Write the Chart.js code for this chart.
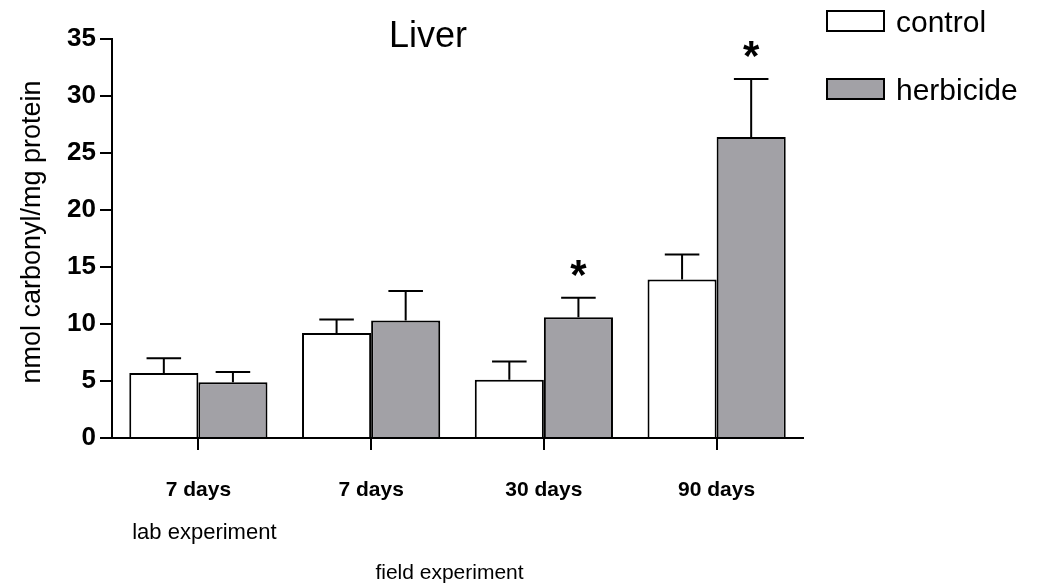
<!DOCTYPE html>
<html><head><meta charset="utf-8">
<script src="https://cdn.jsdelivr.net/npm/chart.js@4/dist/chart.umd.min.js"></script>
<style>html,body{margin:0;padding:0;background:#fff;} #wrap{width:1039px;height:587px;position:relative;}</style>
</head><body><div id="wrap"><canvas id="c"></canvas></div>
<script>
// ---- data ----
const categories = ['7 days', '7 days', '30 days', '90 days'];
const groupLabels = ['lab experiment', 'field experiment'];
const chartTitle = 'Liver';
const yAxisTitle = 'nmol carbonyl/mg protein';
const seriesNames = ['control', 'herbicide'];
const controlMean = [5.7, 9.2, 5.1, 13.9];
const controlSem = [1.3, 1.2, 1.6, 2.2];
const herbicideMean = [4.9, 10.3, 10.6, 26.4];
const herbicideSem = [0.9, 2.6, 1.7, 5.1];
const herbicideSig = ['', '', '*', '*'];
const yMin = 0, yMax = 35, yStep = 5;

const FONT = '"Liberation Sans", Arial, Helvetica, sans-serif';
const colors = ['#ffffff', '#a2a1a6'];

const errorBars = {
  id: 'errorBars',
  afterDatasetsDraw(chart) {
    const ctx = chart.ctx, y = chart.scales.y;
    const sems = [controlSem, herbicideSem];
    const means = [controlMean, herbicideMean];
    ctx.save();
    ctx.strokeStyle = '#000';
    ctx.lineWidth = 2;
    chart.data.datasets.forEach((ds, di) => {
      const meta = chart.getDatasetMeta(di);
      meta.data.forEach((bar, i) => {
        const top = y.getPixelForValue(means[di][i] + sems[di][i]);
        const half = bar.width / 4;
        ctx.beginPath();
        ctx.moveTo(bar.x, bar.y);
        ctx.lineTo(bar.x, top);
        ctx.moveTo(bar.x - half, top);
        ctx.lineTo(bar.x + half, top);
        ctx.stroke();
        if (di === 1 && herbicideSig[i]) {
          const fs = 42;
          ctx.fillStyle = '#000';
          ctx.font = 'bold ' + fs + 'px ' + FONT;
          ctx.textAlign = 'center';
          ctx.textBaseline = 'alphabetic';
          ctx.fillText(herbicideSig[i], bar.x, top - 33 + 0.57 * fs);
        }
      });
    });
    ctx.restore();
  }
};

const decorations = {
  id: 'decorations',
  afterDraw(chart) {
    const ctx = chart.ctx, x = chart.scales.x;
    ctx.save();
    ctx.fillStyle = '#000';
    // title
    ctx.font = '36px ' + FONT;
    ctx.textAlign = 'center';
    ctx.textBaseline = 'alphabetic';
    ctx.fillText(chartTitle, 428, 47);
    // y axis title
    ctx.save();
    ctx.translate(40, 232);
    ctx.rotate(-Math.PI / 2);
    ctx.font = '27px ' + FONT;
    ctx.textAlign = 'center';
    ctx.fillText(yAxisTitle, 0, 0);
    ctx.restore();
    // group labels
    ctx.font = '22px ' + FONT;
    ctx.textAlign = 'center';
    ctx.fillText(groupLabels[0], x.getPixelForValue(0) + 6, 539);
    ctx.font = '21px ' + FONT;
    ctx.fillText(groupLabels[1], (x.getPixelForValue(1) + x.getPixelForValue(2)) / 2 - 8, 579);
    // legend
    ctx.font = '30px ' + FONT;
    ctx.textAlign = 'left';
    chart.data.datasets.forEach((ds, i) => {
      const bx = 827, by = 11 + i * 68, bw = 57, bh = 20;
      ctx.fillStyle = ds.backgroundColor;
      ctx.fillRect(bx, by, bw, bh);
      ctx.strokeStyle = '#000';
      ctx.lineWidth = 2;
      ctx.strokeRect(bx, by, bw, bh);
      ctx.fillStyle = '#000';
      ctx.fillText(ds.label, 896, by + bh + 1);
    });
    ctx.restore();
  }
};

new Chart(document.getElementById('c'), {
  type: 'bar',
  data: {
    labels: categories,
    datasets: [
      { label: seriesNames[0], data: controlMean, backgroundColor: colors[0], borderColor: '#000', borderWidth: 2 },
      { label: seriesNames[1], data: herbicideMean, backgroundColor: colors[1], borderColor: '#000', borderWidth: 2 }
    ]
  },
  options: {
    responsive: true,
    maintainAspectRatio: false,
    animation: false,
    layout: { padding: { left: 0, right: 236, top: 39, bottom: 0 } },
    datasets: { bar: { categoryPercentage: 0.8, barPercentage: 1.0 } },
    plugins: { legend: { display: false }, tooltip: { enabled: false } },
    scales: {
      x: {
        offset: true,
        grid: { display: true, offset: false, drawOnChartArea: false, drawTicks: true, tickLength: 12, color: '#000', lineWidth: 2 },
        border: { display: true, color: '#000', width: 2 },
        ticks: { color: '#000', font: { family: FONT, size: 21, weight: 'bold' }, padding: 28, maxRotation: 0 },
        afterFit(s) { s.height = 149; }
      },
      y: {
        min: yMin, max: yMax,
        grid: { display: true, drawOnChartArea: false, drawTicks: true, tickLength: 12, color: '#000', lineWidth: 2 },
        border: { display: true, color: '#000', width: 2 },
        ticks: { stepSize: yStep, color: '#000', font: { family: FONT, size: 26, weight: 'bold' }, padding: 4 },
        afterFit(s) { s.width = 112; }
      }
    }
  },
  plugins: [errorBars, decorations]
});
</script>
</body></html>
